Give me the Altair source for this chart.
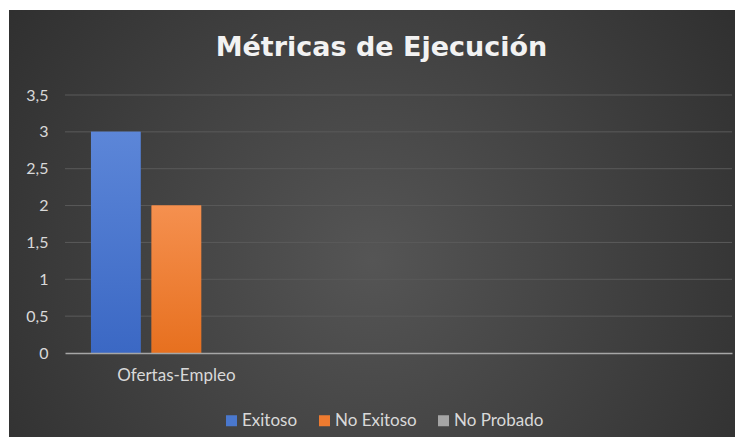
import altair as alt
import pandas as pd

categories = ["Ofertas-Empleo", "cat2", "cat3"]
series = ["Exitoso", "No Exitoso", "No Probado"]
values = [3, 2, 0]
colors = ["#4A78CE", "#EE7B30", "#A5A5A5"]
y_ticks = [0, 0.5, 1, 1.5, 2, 2.5, 3, 3.5]

df = pd.DataFrame({"categoria": [categories[0]] * len(series), "serie": series, "valor": values})
grid_df = pd.DataFrame({"valor": y_ticks[1:]})

W, H = 667, 258
FONT = "Lato"

bg_grad = alt.RadialGradient(
    gradient="radial", x1=0.5, y1=0.55, r1=0, x2=0.5, y2=0.55, r2=0.75,
    stops=[alt.GradientStop(offset=0, color="#555555"),
           alt.GradientStop(offset=1, color="#272727")],
)


def vgrad(top, bottom):
    return alt.LinearGradient(
        gradient="linear", x1=0, y1=0, x2=0, y2=1,
        stops=[alt.GradientStop(offset=0, color=top), alt.GradientStop(offset=1, color=bottom)],
    )


x_enc = alt.X(
    "categoria:N",
    scale=alt.Scale(domain=categories, paddingInner=0.231, paddingOuter=0.117),
    axis=alt.Axis(
        title=None, labelExpr="datum.value == 'Ofertas-Empleo' ? datum.label : ''",
        labelAngle=0, ticks=False, domainColor="#a6a6a6", domainWidth=1.5,
        labelPadding=14, labelFontSize=17, labelColor="#d9d9d9", grid=False,
        labelFont=FONT, zindex=1,
    ),
)
xo_enc = alt.XOffset("serie:N", scale=alt.Scale(domain=series, paddingInner=0.182))
y_enc = alt.Y(
    "valor:Q",
    scale=alt.Scale(domain=[0, 3.5]),
    axis=alt.Axis(
        values=y_ticks, labelExpr="replace(toString(datum.value), '.', ',')",
        title=None, domain=False, ticks=False, grid=False,
        labelPadding=17, labelFontSize=16, labelColor="#d9d9d9", labelFont=FONT, zindex=1,
    ),
)

bg = alt.Chart(pd.DataFrame({"a": [0]})).mark_rect(fill=bg_grad).encode(
    x=alt.value(-56), x2=alt.value(W + 3), y=alt.value(-85), y2=alt.value(H + 84)
)

grid = alt.Chart(grid_df).mark_rule(color="#5a5a5a", strokeWidth=1).encode(
    y=y_enc, x=alt.value(0), x2=alt.value(W)
)

bars = alt.Chart(df).mark_bar().encode(
    x=x_enc, xOffset=xo_enc, y=y_enc,
    color=alt.Color(
        "serie:N",
        scale=alt.Scale(domain=series, range=colors),
        legend=alt.Legend(
            title=None, orient="none", legendX=158, legendY=317, direction="horizontal",
            symbolType="square", symbolSize=121, labelFontSize=17, labelColor="#d9d9d9",
            columnPadding=18, labelOffset=2, symbolStrokeWidth=0, labelFont=FONT, zindex=1,
        ),
    ),
)

bars_grad = alt.Chart(df).mark_bar().encode(
    x=x_enc, xOffset=xo_enc, y=y_enc,
    fill=alt.when(alt.datum.serie == "Exitoso").then(alt.value(vgrad("#5c86d8", "#3b68c4")))
    .when(alt.datum.serie == "No Exitoso").then(alt.value(vgrad("#f5904f", "#e7701f")))
    .otherwise(alt.value(vgrad("#b5b5b5", "#959595"))),
)

chart = alt.layer(bg, grid, bars, bars_grad).properties(
    width=W, height=H,
    title=alt.TitleParams(
        "Métricas de Ejecución", font="DejaVu Sans", fontSize=27, fontWeight="bold",
        color="#f2f2f2", dx=-17, offset=-52, zindex=1,
    ),
    padding={"left": 1, "top": 2, "right": 0, "bottom": 0},
    background="white",
).configure_view(stroke=None)

chart.save("out.html", embed_options={"renderer": "svg", "actions": False})
